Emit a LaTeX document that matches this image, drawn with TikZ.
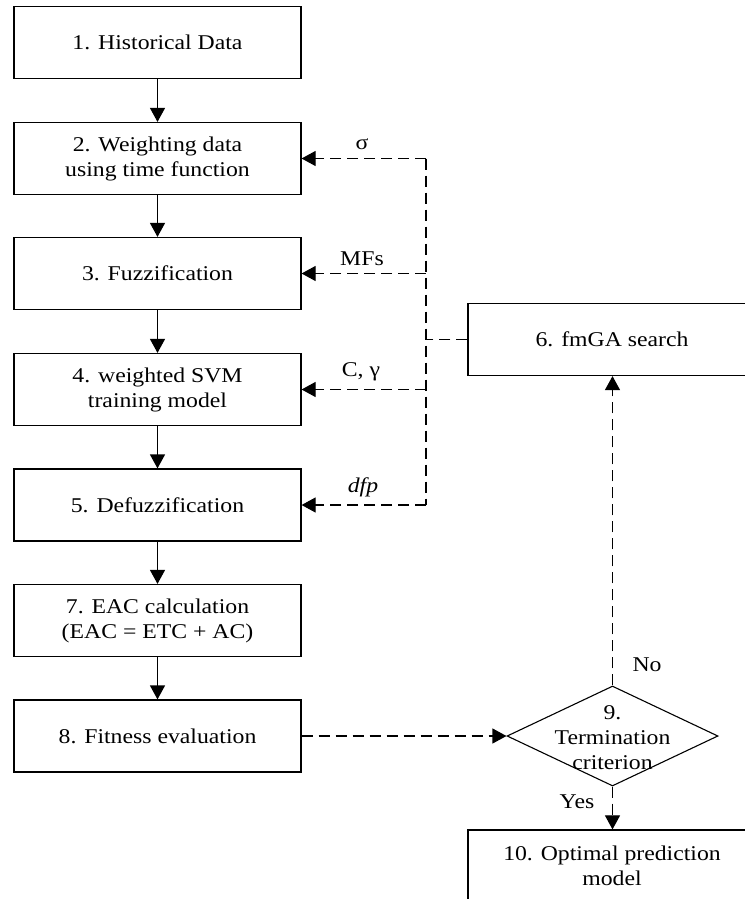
\documentclass[tikz,border=0pt]{standalone}
\usepackage{fontspec}
\setmainfont{Liberation Serif}[FakeStretch=1.13]
\usetikzlibrary{arrows.meta,shapes.geometric}
\begin{document}
\begin{tikzpicture}[x=1pt,y=-1pt,
  every node/.style={font=\fontsize{21}{25}\selectfont},
  box/.style={draw, line width=1.2pt, minimum width=287pt, minimum height=72pt, align=center, inner sep=0pt},
  rbox/.style={draw, line width=1.2pt, minimum width=288pt, minimum height=72pt, align=center, inner sep=0pt},
  flow/.style={line width=1.3pt, -{Triangle[length=14pt,width=15pt]}},
  dflow/.style={line width=1.1pt, dash pattern=on 11pt off 6pt, -{Triangle[length=14pt,width=15pt]}},
  dline/.style={line width=1.1pt, dash pattern=on 11pt off 6pt},
  lbl/.style={inner sep=0pt}]
\useasboundingbox (0,0) rectangle (744,899);
\fill[white] (0,0) rectangle (744,899);
\node[box] (b1) at (157.5,42.5) {1. Historical Data};
\node[box] (b2) at (157.5,158.5) {2. Weighting data\\using time function};
\node[box] (b3) at (157.5,273.5) {3. Fuzzification};
\node[box] (b4) at (157.5,389.5) {4. weighted SVM\\training model};
\node[box] (b5) at (157.5,505) {5. Defuzzification};
\node[box] (b7) at (157.5,620.5) {7. EAC calculation\\(EAC = ETC + AC)};
\node[box] (b8) at (157.5,736) {8. Fitness evaluation};
\node[rbox] (b6) at (612,339.5) {6. fmGA search};
\node[diamond, draw, line width=1.1pt, minimum width=211pt, minimum height=100pt, inner sep=0pt] (d9) at (612.5,736) {};
\node[align=center, inner sep=0pt] (t9) at (612.5,738) {9.\\Termination\\criterion};
\node[rbox] (b10) at (612,866) {10. Optimal prediction\\model};
\draw[flow] (b1) -- (b2);
\draw[flow] (b2) -- (b3);
\draw[flow] (b3) -- (b4);
\draw[flow] (b4) -- (b5);
\draw[flow] (b5) -- (b7);
\draw[flow] (b7) -- (b8);
\coordinate (vt) at (426,158.5);
\coordinate (vb) at (426,505);
\coordinate (vm) at (426,339.5);
\draw[dline] (vt) -- (vb);
\draw[dline] (b6.west) -- (vm);
\draw[dflow] (vt) -- (b2.east);
\draw[dflow] (426,273.5) coordinate (v3) -- (b3.east);
\draw[dflow] (426,389.5) coordinate (v4) -- (b4.east);
\draw[dflow] (vb) -- (b5.east);
\node[lbl] (ls) at (362,144) {σ};
\node[lbl] (lm) at (362,259) {MFs};
\node[lbl] (lc) at (361,372) {C, γ};
\node[lbl] (ld) at (363,487) {\itshape dfp};
\draw[dflow] (b8.east) -- (d9.west);
\draw[dflow] (d9.north) -- (d9.north |- b6.south);
\draw[dflow] (d9.south) -- (d9.south |- b10.north);
\node[lbl] (lno) at (647,665) {No};
\node[lbl] (lyes) at (577,802) {Yes};
\end{tikzpicture}
\end{document}
